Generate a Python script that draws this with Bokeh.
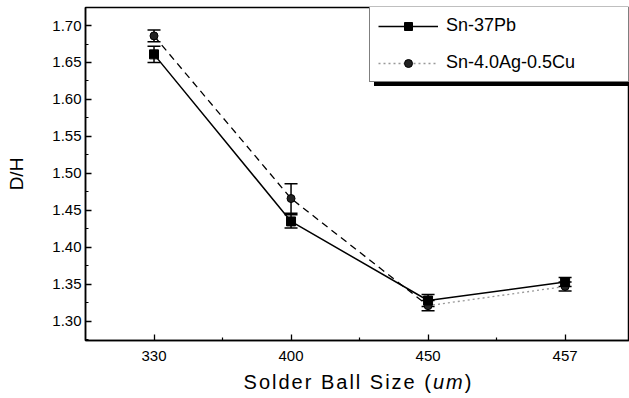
from bokeh.plotting import figure
from bokeh.layouts import column
from bokeh.models import (ColumnDataSource, Whisker, TeeHead, FixedTicker, Legend, LegendItem,
                          Range1d, NumeralTickFormatter, Div)
from bokeh.embed import file_html
from bokeh.resources import INLINE

# ---- data ----
sizes = ["330", "400", "450", "457"]
pos = [1, 2, 3, 4]
snpb = [1.661, 1.435, 1.328, 1.353]
snpb_err = [0.011, 0.009, 0.008, 0.006]
sac = [1.686, 1.466, 1.321, 1.347]
sac_err = [0.008, 0.020, 0.007, 0.006]
yticks = [1.30, 1.35, 1.40, 1.45, 1.50, 1.55, 1.60, 1.65, 1.70]

FONT = "Liberation Sans"

p = figure(width=629, height=370, output_backend="svg", toolbar_location=None,
           x_range=Range1d(0.5, 4.47), y_range=Range1d(1.2739, 1.7244),
           min_border_left=85, min_border_right=0, min_border_top=7, min_border_bottom=30,
           margin=(0, 0, 0, 0))
p.grid.visible = False
p.outline_line_color = "black"
p.outline_line_width = 1.5
p.background_fill_color = "white"
p.border_fill_color = "white"

s1 = ColumnDataSource(dict(x=pos, y=snpb,
                           lo=[v - e for v, e in zip(snpb, snpb_err)],
                           hi=[v + e for v, e in zip(snpb, snpb_err)]))
s2 = ColumnDataSource(dict(x=pos, y=sac,
                           lo=[v - e for v, e in zip(sac, sac_err)],
                           hi=[v + e for v, e in zip(sac, sac_err)]))

# Sn-4.0Ag-0.5Cu lines: dashed then light dotted
l2a = p.line(pos[:3], sac[:3], line_color="black", line_width=1.3, line_dash="7 5")
l2b = p.line(pos[2:], sac[2:], line_color="#999999", line_width=1.3, line_dash="2 3")
# Sn-37Pb solid
l1 = p.line("x", "y", source=s1, line_color="black", line_width=1.5)

for src in (s2, s1):
    w = Whisker(base="x", upper="hi", lower="lo", source=src, line_width=1.5, line_color="black",
                upper_head=TeeHead(size=13, line_width=1.5, line_color="black"),
                lower_head=TeeHead(size=13, line_width=1.5, line_color="black"))
    p.add_layout(w)

c2 = p.scatter("x", "y", source=s2, marker="circle", size=8, fill_color="#222222", line_color="black")
sq1 = p.scatter("x", "y", source=s1, marker="square", size=9, fill_color="black", line_color="black")

# axes
xa = p.xaxis[0]
xa.ticker = FixedTicker(ticks=pos, minor_ticks=[1.5, 2.5, 3.5])
xa.major_label_overrides = {k: v for k, v in zip(pos, sizes)}
ya = p.yaxis[0]
ya.ticker = FixedTicker(ticks=yticks, minor_ticks=[t + 0.025 for t in yticks] + [1.275])
ya.formatter = NumeralTickFormatter(format="0.00")
for ax in (xa, ya):
    ax.major_tick_in = 6
    ax.major_tick_out = 0
    ax.minor_tick_in = 3
    ax.minor_tick_out = 0
    ax.axis_line_width = 1.5
    ax.major_tick_line_width = 1.3
    ax.minor_tick_line_width = 1.2
    ax.major_label_text_font = FONT
    ax.major_label_text_font_size = "15px"
    ax.major_label_text_color = "black"
xa.major_label_standoff = 10
ya.major_label_standoff = 4
ya.axis_label = "D/H"
ya.axis_label_text_font = FONT
ya.axis_label_text_font_size = "19px"
ya.axis_label_text_font_style = "normal"
ya.axis_label_text_color = "black"
ya.axis_label_standoff = 22

items = [LegendItem(label="Sn-37Pb", renderers=[l1, sq1]),
         LegendItem(label="Sn-4.0Ag-0.5Cu", renderers=[l2b, c2])]
shadow_items = [LegendItem(label=" ", renderers=[l1, sq1]),
                LegendItem(label=" ", renderers=[l2b, c2])]


def make_legend(its, loc, shadow=False):
    lg = Legend(items=its, location=loc, orientation="vertical")
    lg.label_text_font = FONT
    lg.label_text_font_size = "18px"
    lg.label_text_color = "black"
    lg.border_line_color = "black"
    lg.border_line_width = 1.2
    lg.background_fill_color = "black" if shadow else "white"
    lg.background_fill_alpha = 1.0
    lg.padding = 8
    lg.margin = 0
    lg.spacing = 16
    lg.glyph_width = 60
    lg.glyph_height = 20
    lg.label_height = 21
    lg.label_standoff = 8
    lg.label_width = 174
    return lg


p.add_layout(make_legend(shadow_items, (289, 254), shadow=True), "center")
p.add_layout(make_legend(items, (284, 258)), "center")

title = Div(text=('<div style="width:541px; margin-left:88px; text-align:center; '
                  'font-family:\'Liberation Sans\'; font-size:20px; color:black; '
                  'letter-spacing:2px; line-height:24px; white-space:nowrap;">'
                  'Solder Ball Size (<i>um</i>)</div>'),
            width=629, height=28, margin=(0, 0, 0, 0))

layout = column(p, title, spacing=0, margin=(0, 0, 0, 0))

open("out.html", "w").write(file_html(layout, INLINE))
